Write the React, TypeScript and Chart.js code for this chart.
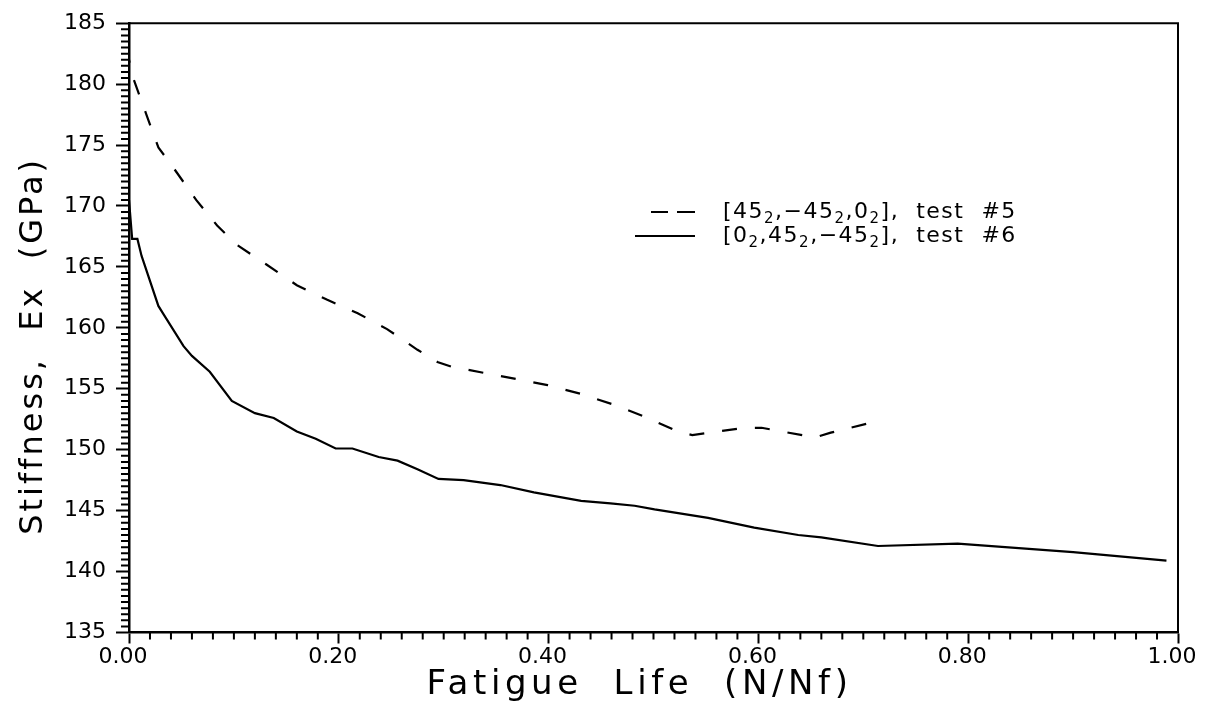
import { useEffect, useRef } from "react";
import { Chart, registerables } from "chart.js";

Chart.register(...registerables);

// ---- data ----
const lifeTest5 = [0, 0.004, 0.017, 0.028, 0.041, 0.064, 0.084, 0.103, 0.131, 0.16, 0.189, 0.218, 0.246, 0.275, 0.294, 0.308, 0.351, 0.399, 0.43, 0.462, 0.492, 0.523, 0.537, 0.587, 0.603, 0.654, 0.669, 0.711];
const stiffTest5 = [182.0, 180.5, 177.4, 174.8, 173.3, 170.5, 168.4, 166.8, 165.2, 163.5, 162.3, 161.2, 159.9, 158.2, 157.2, 156.8, 156.1, 155.3, 154.6, 153.7, 152.7, 151.5, 151.2, 151.8, 151.8, 151.0, 151.4, 152.3];

const lifeTest6 = [0, 0.003, 0.008, 0.012, 0.028, 0.033, 0.052, 0.06, 0.077, 0.098, 0.12, 0.138, 0.16, 0.178, 0.197, 0.213, 0.238, 0.256, 0.275, 0.295, 0.319, 0.354, 0.386, 0.431, 0.459, 0.482, 0.501, 0.552, 0.596, 0.638, 0.66, 0.714, 0.79, 0.9, 0.989];
const stiffTest6 = [170.5, 167.3, 167.3, 165.9, 161.8, 161.1, 158.5, 157.7, 156.4, 154.0, 153.0, 152.6, 151.5, 150.9, 150.1, 150.1, 149.4, 149.1, 148.4, 147.6, 147.5, 147.1, 146.5, 145.8, 145.6, 145.4, 145.1, 144.4, 143.6, 143.0, 142.8, 142.1, 142.3, 141.6, 140.9];

const xTickValues = [0, 0.2, 0.4, 0.6, 0.8, 1.0];
const yTickValues = [135, 140, 145, 150, 155, 160, 165, 170, 175, 180, 185];

// "_2" marks a subscript 2
const legendLabels = ["[45_2,\u221245_2,0_2],  test  #5", "[0_2,45_2,\u221245_2],  test  #6"];
const xTitle = "Fatigue  Life  (N/Nf)";
const yTitle = "Stiffness,  Ex  (GPa)";

const FONT = '"DejaVu Sans", sans-serif';

function drawRich(ctx: CanvasRenderingContext2D, text: string, x: number, y: number) {
  const parts = text.split(/_(\d)/);
  let cx = x;
  parts.forEach((p, i) => {
    if (i % 2 === 0) {
      ctx.font = `22px ${FONT}`;
      ctx.fillText(p, cx, y);
      cx += ctx.measureText(p).width;
    } else {
      ctx.font = `15px ${FONT}`;
      ctx.fillText(p, cx, y + 7);
      cx += ctx.measureText(p).width;
    }
  });
}

const decorPlugin = {
  id: "decor",
  afterDraw(chart: any) {
    const { ctx, chartArea: a, scales } = chart;
    const x = scales.x;
    const y = scales.y;
    ctx.save();
    ctx.strokeStyle = "#000";
    ctx.fillStyle = "#000";
    // frame (top and right)
    ctx.lineWidth = 2;
    ctx.beginPath();
    ctx.moveTo(a.left, a.top);
    ctx.lineTo(a.right, a.top);
    ctx.lineTo(a.right, a.bottom);
    ctx.stroke();
    // minor ticks
    ctx.beginPath();
    for (let i = 0; i <= 100; i++) {
      if (i % 10 === 0) continue;
      const py = y.getPixelForValue(135 + i * 0.5);
      ctx.moveTo(a.left - 8, py);
      ctx.lineTo(a.left, py);
    }
    for (let i = 0; i <= 50; i++) {
      if (i % 10 === 0) continue;
      const px = x.getPixelForValue(i * 0.02);
      ctx.moveTo(px, a.bottom);
      ctx.lineTo(px, a.bottom + 7);
    }
    ctx.stroke();

    // axis titles
    ctx.textBaseline = "middle";
    ctx.textAlign = "center";
    ctx.font = `34px ${FONT}`;
    (ctx as any).letterSpacing = "4.6px";
    ctx.fillText(xTitle, (a.left + a.right) / 2 - 14, a.bottom + 53);
    ctx.save();
    ctx.translate(34, (a.top + a.bottom) / 2 + 18);
    ctx.rotate(-Math.PI / 2);
    ctx.font = `32px ${FONT}`;
    (ctx as any).letterSpacing = "3px";
    ctx.fillText(yTitle, 0, 0);
    ctx.restore();

    // legend
    (ctx as any).letterSpacing = "1.5px";
    ctx.textAlign = "left";
    const rows = [212, 236];
    chart.data.datasets.forEach((ds: any, i: number) => {
      const ry = rows[i];
      ctx.lineWidth = 2;
      ctx.beginPath();
      if (ds.borderDash && ds.borderDash.length) {
        ctx.moveTo(651, ry);
        ctx.lineTo(668, ry);
        ctx.moveTo(677, ry);
        ctx.lineTo(695, ry);
      } else {
        ctx.moveTo(635, ry);
        ctx.lineTo(695, ry);
      }
      ctx.stroke();
      drawRich(ctx, ds.label, 723, ry);
    });
    ctx.restore();
  },
};

export default function App() {
  const ref = useRef<HTMLCanvasElement>(null);
  useEffect(() => {
    if (!ref.current) return;
    Chart.defaults.font.family = FONT;
    const chart = new Chart(ref.current, {
      type: "line",
      data: {
        datasets: [
          {
            label: legendLabels[0],
            data: lifeTest5.map((v, i) => ({ x: v, y: stiffTest5[i] })),
            borderColor: "#000",
            borderWidth: 2.2,
            borderDash: [15, 18],
            borderDashOffset: 12,
            pointRadius: 0,
            tension: 0,
            fill: false,
          },
          {
            label: legendLabels[1],
            data: lifeTest6.map((v, i) => ({ x: v, y: stiffTest6[i] })),
            borderColor: "#000",
            borderWidth: 2.2,
            pointRadius: 0,
            tension: 0,
            fill: false,
          },
        ],
      },
      options: {
        animation: false,
        responsive: false,
        devicePixelRatio: 1,
        layout: { padding: { left: 0, top: 18, right: 30, bottom: 0 } },
        plugins: { legend: { display: false }, tooltip: { enabled: false } },
        scales: {
          x: {
            type: "linear",
            min: 0,
            max: 1,
            afterBuildTicks: (s: any) => {
              s.ticks = xTickValues.map((value) => ({ value }));
            },
            afterFit: (s: any) => {
              s.height = 80.5;
            },
            ticks: {
              callback: (v: any) => Number(v).toFixed(2),
              color: "#000",
              font: { size: 22 },
              padding: 1,
              labelOffset: -6,
              maxRotation: 0,
              autoSkip: false,
            },
            grid: { display: true, drawOnChartArea: false, drawTicks: true, tickLength: 11, tickWidth: 2, tickColor: "#000" },
            border: { display: true, color: "#000", width: 2.5 },
          },
          y: {
            type: "linear",
            min: 135,
            max: 185,
            afterBuildTicks: (s: any) => {
              s.ticks = yTickValues.map((value) => ({ value }));
            },
            afterFit: (s: any) => {
              s.width = 129;
            },
            ticks: {
              callback: (v: any) => String(v),
              color: "#000",
              font: { size: 22 },
              padding: 10,
              autoSkip: false,
            },
            grid: { display: true, drawOnChartArea: false, drawTicks: true, tickLength: 13, tickWidth: 2, tickColor: "#000" },
            border: { display: true, color: "#000", width: 2.5 },
          },
        },
      },
      plugins: [decorPlugin],
    } as any);
    return () => chart.destroy();
  }, []);
  return (
    <div style={{ position: "fixed", left: 0, top: 0, width: 1208, height: 713, background: "#fff" }}>
      <canvas ref={ref} width={1208} height={713} style={{ display: "block" }} />
    </div>
  );
}
